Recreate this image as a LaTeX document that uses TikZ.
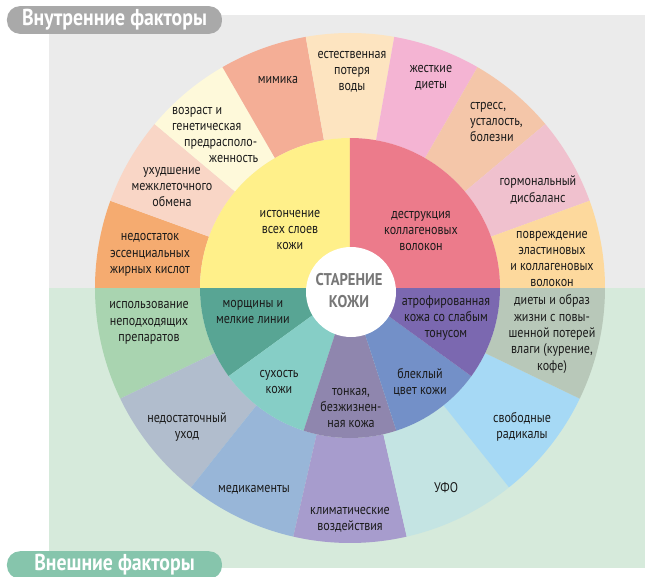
\documentclass[tikz,border=0pt]{standalone}
\usepackage{fontspec}
\setmainfont{PT Sans}[FakeStretch=0.86]
\usepackage{tikz}
\definecolor{bggray}{HTML}{EBEBEB}
\definecolor{bggreen}{HTML}{D6EADB}
\definecolor{pillgray}{HTML}{A9A9A9}
\definecolor{pillgreen}{HTML}{86C5AC}
\definecolor{txtdark}{HTML}{1A1A1A}
\definecolor{txtgray}{HTML}{777777}
% outer ring, inner factors
\definecolor{outA}{HTML}{F5AB70}
\definecolor{outB}{HTML}{F9D6C6}
\definecolor{outC}{HTML}{FEF9DA}
\definecolor{outD}{HTML}{F4AE96}
\definecolor{outE}{HTML}{FDE4C0}
\definecolor{outF}{HTML}{F4B4D3}
\definecolor{outG}{HTML}{F4C6A9}
\definecolor{outH}{HTML}{F0C1CE}
\definecolor{outI}{HTML}{FDD99D}
% outer ring, outer factors
\definecolor{extA}{HTML}{A9D4B0}
\definecolor{extB}{HTML}{B1BDCD}
\definecolor{extC}{HTML}{98B6D8}
\definecolor{extD}{HTML}{A79CCD}
\definecolor{extE}{HTML}{C4E4E3}
\definecolor{extF}{HTML}{A6D9F5}
\definecolor{extG}{HTML}{B8C8B9}
% inner ring
\definecolor{innA}{HTML}{FFF08A}
\definecolor{innB}{HTML}{EC7B8B}
\definecolor{innC}{HTML}{58A594}
\definecolor{innD}{HTML}{86CEC6}
\definecolor{innE}{HTML}{8F86AE}
\definecolor{innF}{HTML}{7390C8}
\definecolor{innG}{HTML}{7B68B0}
\newcommand{\ringpart}[5]{\fill[#1] (#2:#4) arc[start angle=#2, end angle=#3, radius=#4] -- (#3:#5) arc[start angle=#3, end angle=#2, radius=#5] -- cycle;}

\begin{document}
\begin{tikzpicture}[x=1pt, y=1pt,
  lbl/.style={text=txtdark, align=center, font=\fontsize{14}{16.3}\selectfont, inner sep=0pt},
  pill/.style={rounded corners=13pt, minimum width=215pt, minimum height=26pt, text=white,
    font=\fontsize{23}{23}\selectfont\bfseries}]
\useasboundingbox (-350,-288) rectangle (295,288);
\fill[bggray] (-301,0) rectangle (295,273);
\fill[bggreen] (-301,-280) rectangle (295,0);
% outer ring
\foreach \c [count=\i from 0] in {outA,outB,outC,outD,outE,outF,outG,outH,outI}
  {\pgfmathsetmacro\a{180-20*\i}\pgfmathsetmacro\b{\a-20}
   \ringpart{\c}{\a}{\b}{150pt}{255pt}}
\foreach \c [count=\i from 0] in {extA,extB,extC,extD,extE,extF,extG}
  {\pgfmathsetmacro\a{180+180/7*\i}\pgfmathsetmacro\b{\a+180/7}
   \ringpart{\c}{\a}{\b}{150pt}{255pt}}
% inner ring
\ringpart{innA}{90}{180}{0pt}{150pt}
\ringpart{innB}{0}{90}{0pt}{150pt}
\foreach \c [count=\i from 0] in {innC,innD,innE,innF,innG}
  {\pgfmathsetmacro\a{180+36*\i}\pgfmathsetmacro\b{\a+36}
   \ringpart{\c}{\a}{\b}{0pt}{150pt}}
\fill[white] (1,-4) circle[radius=45pt];
\node[text=txtgray, align=center, font=\fontsize{17}{22}\selectfont\bfseries] (center) at (-1,-3) {СТАРЕНИЕ\\КОЖИ};

% inner factors
\node[lbl] (fattyacid) at (-200,33) {недостаток\\эссенциальных\\жирных кислот};
\node[lbl] (metabolism) at (-178,101) {ухудшение\\межклеточного\\обмена};
\node[lbl, anchor=west, align=left] (genetics) at (-178,153) {возраст и\\генетическая\\\hspace*{12pt}предрасполо-\\\hspace*{37pt}женность};
\node[lbl] (mimics) at (-72,208) {мимика};
\node[lbl] (waterloss) at (2,216) {естественная\\потеря\\воды};
\node[lbl] (diets) at (81,210) {жесткие\\диеты};
\node[lbl, anchor=west, align=left] (stress) at (120,166) {стресс,\\усталость,\\болезни};
\node[lbl] (hormones) at (188,98) {гормональный\\дисбаланс};
\node[lbl] (fibredamage) at (202,29) {повреждение\\эластиновых\\и коллагеновых\\волокон};
\node[lbl] (thinning) at (-60,58) {истончение\\всех слоев\\кожи};
\node[lbl] (collagen) at (71,57) {деструкция\\коллагеновых\\волокон};

% outer factors
\node[lbl] (wrinkles) at (-97,-24) {морщины и\\мелкие линии};
\node[lbl] (dryness) at (-71,-94) {сухость\\кожи};
\node[lbl] (lifeless) at (1,-120) {тонкая,\\безжизнен-\\ная кожа};
\node[lbl] (dull) at (70,-94) {блеклый\\цвет кожи};
\node[lbl] (atrophy) at (96,-30) {атрофированная\\кожа со слабым\\тонусом};
\node[lbl] (products) at (-201,-35) {использование\\неподходящих\\препаратов};
\node[lbl] (poorcare) at (-163,-139) {недостаточный\\уход};
\node[lbl] (drugs) at (-96,-202) {медикаменты};
\node[lbl] (climate) at (0,-232) {климатические\\воздействия};
\node[lbl] (uv) at (96,-200) {УФО};
\node[lbl] (radicals) at (172,-139) {свободные\\радикалы};
\node[lbl] (lifestyle) at (202,-46) {диеты и образ\\жизни с повы-\\шенной потерей\\влаги (курение,\\кофе)};

% headers
\node[pill, fill=pillgray] (inner) at (-235.5,268) {Внутренние факторы};
\node[pill, fill=pillgreen] (outer) at (-235.5,-277) {Внешние факторы};
\end{tikzpicture}
\end{document}
